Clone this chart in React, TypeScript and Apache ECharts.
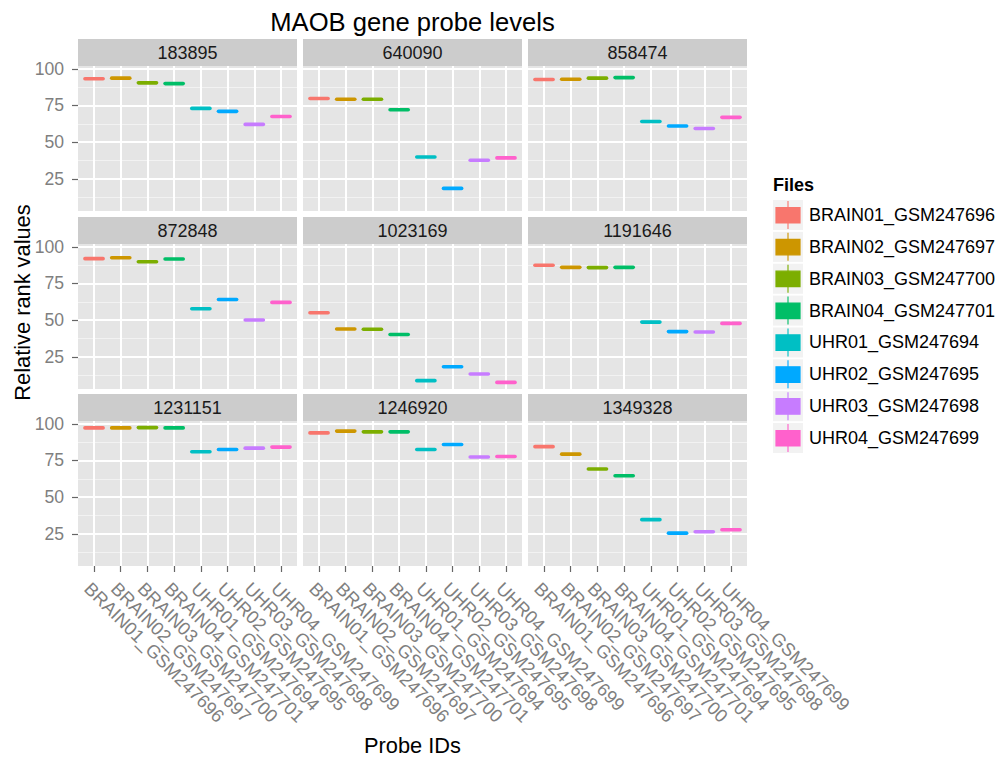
import React, { useEffect, useRef } from "react";
import * as echarts from "echarts";

// ---------- data ----------
const files = [
  "BRAIN01_GSM247696",
  "BRAIN02_GSM247697",
  "BRAIN03_GSM247700",
  "BRAIN04_GSM247701",
  "UHR01_GSM247694",
  "UHR02_GSM247695",
  "UHR03_GSM247698",
  "UHR04_GSM247699",
];
const colors = ["#F8766D", "#CD9600", "#7CAE00", "#00BE67", "#00BFC4", "#00A9FF", "#C77CFF", "#FF61CC"];
const probes = ["183895", "640090", "858474", "872848", "1023169", "1191646", "1231151", "1246920", "1349328"];

const v183895 = [93.2, 93.6, 90.4, 89.9, 73.0, 71.0, 62.1, 67.5];
const v640090 = [79.7, 79.2, 79.2, 72.1, 39.9, 18.5, 37.7, 39.3];
const v858474 = [92.7, 92.9, 93.6, 94.0, 64.1, 61.0, 59.3, 66.9];
const v872848 = [91.9, 92.5, 89.8, 91.7, 57.8, 64.1, 50.1, 62.1];
const v1023169 = [55.1, 44.0, 43.8, 40.2, 8.8, 18.3, 13.3, 7.6];
const v1191646 = [87.4, 86.0, 85.8, 86.0, 48.7, 42.2, 41.9, 47.8];
const v1231151 = [97.2, 97.2, 97.4, 97.2, 80.9, 82.5, 83.4, 84.1];
const v1246920 = [93.8, 95.0, 94.5, 94.5, 82.5, 85.9, 77.4, 77.7];
const v1349328 = [84.4, 79.3, 69.2, 64.6, 34.7, 25.5, 26.4, 27.8];
const panelValues = [v183895, v640090, v858474, v872848, v1023169, v1191646, v1231151, v1246920, v1349328];

const yTicks = [25, 50, 75, 100];
const yMinorTicks = [12.5, 37.5, 62.5, 87.5];
const xTicks = [1, 2, 3, 4, 5, 6, 7, 8];

// ---------- layout ----------
const FONT = "'Liberation Sans', Arial, Helvetica, sans-serif";
const COL_X = [78, 303, 528];
const ROW_Y = [66, 244, 421];
const PANEL_W = 219;
const PANEL_H = 145;
const STRIP_H = 27;
const SMALL = 18;

function buildOption() {
  const all = panelValues.flat();
  const lo = Math.min(...all);
  const hi = Math.max(...all);
  const pad = (hi - lo) * 0.05;
  const yMin = lo - pad;
  const yMax = hi + pad;

  const grids: any[] = [];
  const xAxes: any[] = [];
  const yAxes: any[] = [];
  const series: any[] = [];
  const graphics: any[] = [];

  probes.forEach((probe, i) => {
    const r = Math.floor(i / 3);
    const c = i % 3;
    const left = COL_X[c];
    const top = ROW_Y[r];
    grids.push({
      left,
      top,
      width: PANEL_W,
      height: PANEL_H,
      show: true,
      backgroundColor: "#E5E5E5",
      borderWidth: 0,
      containLabel: false,
    });
    xAxes.push({
      gridIndex: i,
      type: "value",
      min: 0.4,
      max: 8.6,
      axisLine: { show: false },
      axisTick: {
        show: r === 2,
        customValues: xTicks,
        length: 6,
        lineStyle: { color: "#666666", width: 1.2 },
      },
      axisLabel: {
        show: r === 2,
        customValues: xTicks,
        showMinLabel: true,
        showMaxLabel: true,
        hideOverlap: false,
        rotate: -45,
        margin: 13,
        verticalAlign: "top",
        color: "#7F7F7F",
        fontSize: 18.3,
        fontFamily: FONT,
        formatter: (v: number) => files[Math.round(v) - 1] ?? "",
      },
      splitLine: { show: true, lineStyle: { color: "#FFFFFF", width: 2 } },
    });
    yAxes.push({
      gridIndex: i,
      type: "value",
      min: yMin,
      max: yMax,
      axisLine: { show: false },
      axisTick: {
        show: c === 0,
        customValues: yTicks,
        length: 6,
        lineStyle: { color: "#666666", width: 1.2 },
      },
      axisLabel: {
        show: c === 0,
        customValues: yTicks,
        showMinLabel: true,
        showMaxLabel: true,
        margin: 14,
        color: "#7F7F7F",
        fontSize: 17.6,
        fontFamily: FONT,
      },
      splitLine: { show: true, lineStyle: { color: "#FFFFFF", width: 2 } },
    });
    yAxes.push({
      gridIndex: i,
      type: "value",
      position: "left",
      min: yMin,
      max: yMax,
      axisLine: { show: false },
      axisTick: { show: false, customValues: yMinorTicks },
      axisLabel: { show: false, customValues: yMinorTicks },
      splitLine: { show: true, lineStyle: { color: "#F2F2F2", width: 1 } },
    });
    series.push({
      type: "custom",
      name: probe,
      xAxisIndex: i,
      yAxisIndex: i * 2,
      data: panelValues[i].map((v, k) => [k + 1, v]),
      encode: { x: 0, y: 1 },
      renderItem: (params: any, api: any) => {
        const x = api.value(0);
        const y = api.value(1);
        const p1 = api.coord([x - 0.34, y]);
        const p2 = api.coord([x + 0.34, y]);
        return {
          type: "line",
          shape: { x1: p1[0], y1: p1[1], x2: p2[0], y2: p2[1] },
          style: { stroke: colors[params.dataIndex], lineWidth: 3.6, lineCap: "round" },
        };
      },
    });
    // strip
    graphics.push({
      type: "rect",
      shape: { x: left, y: top - STRIP_H, width: PANEL_W, height: STRIP_H },
      style: { fill: "#CCCCCC" },
      silent: true,
    });
    graphics.push({
      type: "text",
      x: left + PANEL_W / 2,
      y: top - STRIP_H / 2,
      style: {
        text: probe,
        fill: "#1A1A1A",
        fontSize: SMALL,
        fontFamily: FONT,
        align: "center",
        verticalAlign: "middle",
      },
      silent: true,
    });
  });

  const centerX = COL_X[0] + (COL_X[2] + PANEL_W - COL_X[0]) / 2;
  const centerY = (ROW_Y[0] - STRIP_H + ROW_Y[2] + PANEL_H) / 2;

  // titles
  graphics.push({
    type: "text",
    x: centerX,
    y: 22,
    style: {
      text: "MAOB gene probe levels",
      fill: "#000000",
      fontSize: 25.6,
      fontFamily: FONT,
      align: "center",
      verticalAlign: "middle",
    },
  });
  graphics.push({
    type: "text",
    x: centerX,
    y: 745,
    style: {
      text: "Probe IDs",
      fill: "#000000",
      fontSize: 21.8,
      fontFamily: FONT,
      align: "center",
      verticalAlign: "middle",
    },
  });
  graphics.push({
    type: "text",
    x: 22,
    y: centerY,
    rotation: Math.PI / 2,
    style: {
      text: "Relative rank values",
      fill: "#000000",
      fontSize: 21.8,
      fontFamily: FONT,
      align: "center",
      verticalAlign: "middle",
    },
  });

  // legend
  const LEG_X = 773;
  const LEG_Y = 200;
  const STEP = 31.86;
  graphics.push({
    type: "text",
    x: LEG_X,
    y: 185,
    style: {
      text: "Files",
      fill: "#000000",
      fontSize: SMALL,
      fontWeight: "bold",
      fontFamily: FONT,
      align: "left",
      verticalAlign: "middle",
    },
  });
  files.forEach((f, k) => {
    const y0 = LEG_Y + k * STEP;
    graphics.push({
      type: "rect",
      shape: { x: LEG_X, y: y0, width: 30, height: 30 },
      style: { fill: "#F2F2F2" },
    });
    graphics.push({
      type: "line",
      shape: { x1: LEG_X + 15, y1: y0 + 1, x2: LEG_X + 15, y2: y0 + 29 },
      style: { stroke: colors[k], lineWidth: 1.4, opacity: 0.8 },
    });
    graphics.push({
      type: "rect",
      shape: { x: LEG_X + 3, y: y0 + 7.5, width: 24, height: 15.5 },
      style: { fill: colors[k], stroke: colors[k], lineWidth: 1.2 },
    });
    graphics.push({
      type: "text",
      x: LEG_X + 36,
      y: y0 + 15,
      style: {
        text: f,
        fill: "#000000",
        fontSize: SMALL,
        fontFamily: FONT,
        align: "left",
        verticalAlign: "middle",
      },
    });
  });

  return {
    animation: false,
    backgroundColor: "#FFFFFF",
    textStyle: { fontFamily: FONT },
    grid: grids,
    xAxis: xAxes,
    yAxis: yAxes,
    series,
    graphic: { elements: graphics },
  };
}

export default function App() {
  const ref = useRef<HTMLDivElement>(null);
  useEffect(() => {
    const chart = echarts.init(ref.current!, undefined, { renderer: "svg" });
    chart.setOption(buildOption() as any);
    return () => chart.dispose();
  }, []);
  return (
    <div
      ref={ref}
      style={{ position: "fixed", left: 0, top: 0, width: 1001, height: 762, background: "#fff" }}
    />
  );
}
